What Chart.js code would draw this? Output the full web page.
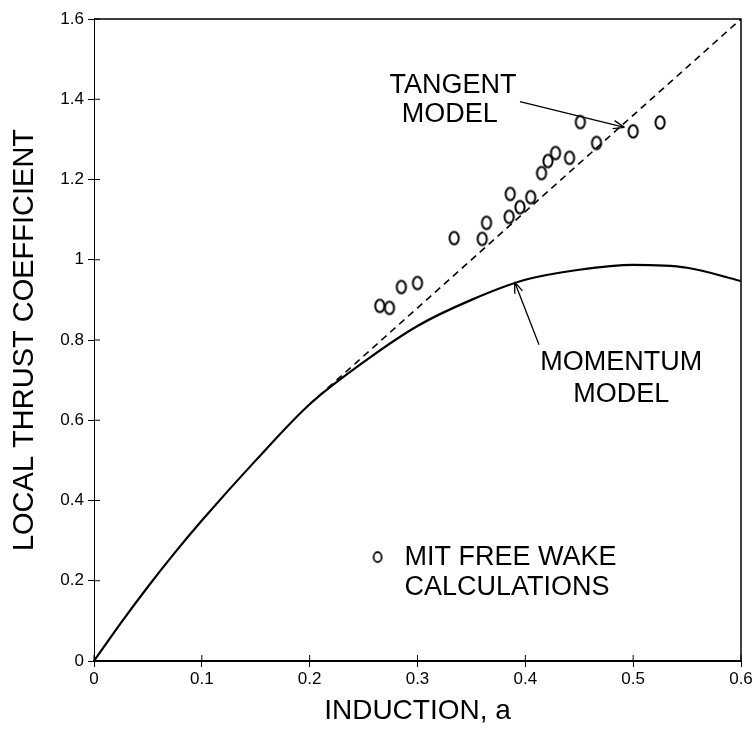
<!DOCTYPE html>
<html>
<head>
<meta charset="utf-8">
<title>Local thrust coefficient vs induction</title>
<script src="https://cdn.jsdelivr.net/npm/chart.js"></script>
<style>
  html, body { margin: 0; padding: 0; background: #fff; }
</style>
</head>
<body>
<canvas id="chart" width="755" height="733"></canvas>
<script>
// Momentum model curve
const momentumA = [0, 0.025, 0.05, 0.075, 0.1, 0.15, 0.2, 0.25, 0.3, 0.35, 0.4, 0.45, 0.5, 0.55, 0.6];
const momentumC = [0, 0.095, 0.185, 0.27, 0.35, 0.5, 0.64, 0.745, 0.835, 0.9, 0.95, 0.975, 0.987, 0.98, 0.947];

// Tangent model (dashed straight line)
const tangentA = [0.2, 0.6];
const tangentC = [0.64, 1.6];

// MIT free wake calculations (open markers)
const mitA = [0.265, 0.274, 0.285, 0.300, 0.334, 0.360, 0.364, 0.385, 0.386, 0.395, 0.405,
              0.415, 0.421, 0.428, 0.441, 0.451, 0.466, 0.50, 0.525];
const mitC = [0.885, 0.880, 0.932, 0.942, 1.054, 1.052, 1.092, 1.107, 1.164, 1.131, 1.156,
              1.216, 1.246, 1.266, 1.254, 1.343, 1.291, 1.320, 1.342];

// axis ticks
const xTicks = [0, 0.1, 0.2, 0.3, 0.4, 0.5, 0.6];
const xTickLabels = ['0', '0.1', '0.2', '0.3', '0.4', '0.5', '0.6'];
const yTicks = [0, 0.2, 0.4, 0.6, 0.8, 1, 1.2, 1.4, 1.6];
const yTickLabels = ['0', '0.2', '0.4', '0.6', '0.8', '1', '1.2', '1.4', '1.6'];

const FONT = "'Liberation Sans', Arial, sans-serif";

// "0" shaped marker used for the calculation points
function makeMarker(rx, ry, w) {
  const c = document.createElement('canvas');
  c.width = Math.ceil(rx * 2 + 4);
  c.height = Math.ceil(ry * 2 + 4);
  const g = c.getContext('2d');
  g.lineWidth = w;
  g.strokeStyle = '#000';
  g.beginPath();
  g.ellipse(c.width / 2, c.height / 2, rx, ry, 0, 0, Math.PI * 2);
  g.stroke();
  return c;
}
const marker = makeMarker(4.6, 6.3, 2);
const legendMarker = makeMarker(4, 5, 1.8);

const toXY = (xs, ys) => xs.map((v, i) => ({x: v, y: ys[i]}));

// labels and arrows, placed in data units
const notes = {
  texts: [
    {a: 0.333, c: 1.435, text: 'TANGENT', align: 'center'},
    {a: 0.330, c: 1.361, text: 'MODEL', align: 'center'},
    {a: 0.489, c: 0.743, text: 'MOMENTUM', align: 'center'},
    {a: 0.489, c: 0.663, text: 'MODEL', align: 'center'},
    {a: 0.288, c: 0.259, text: 'MIT FREE WAKE', align: 'left'},
    {a: 0.288, c: 0.184, text: 'CALCULATIONS', align: 'left'}
  ],
  arrows: [
    {from: [0.395, 1.394], to: [0.492, 1.33]},
    {from: [0.4127, 0.788], to: [0.390, 0.945]}
  ],
  legendMarker: [0.263, 0.259]
};

const annotate = {
  id: 'annotate',
  afterDraw(chart) {
    const {ctx, chartArea: area, scales: {x, y}} = chart;
    ctx.save();
    ctx.strokeStyle = '#000';
    ctx.fillStyle = '#000';

    // top and right frame
    ctx.lineWidth = 1.5;
    ctx.beginPath();
    ctx.moveTo(area.left, area.top);
    ctx.lineTo(area.right, area.top);
    ctx.lineTo(area.right, area.bottom);
    ctx.stroke();

    // inner half of the tick marks
    ctx.lineWidth = 1;
    ctx.beginPath();
    x.ticks.forEach(t => {
      const px = x.getPixelForValue(t.value);
      ctx.moveTo(px, area.bottom);
      ctx.lineTo(px, area.bottom - 6);
    });
    y.ticks.forEach(t => {
      const py = y.getPixelForValue(t.value);
      ctx.moveTo(area.left, py);
      ctx.lineTo(area.left + 6, py);
    });
    ctx.stroke();

    // text labels
    ctx.font = '27px ' + FONT;
    ctx.textBaseline = 'middle';
    notes.texts.forEach(n => {
      ctx.textAlign = n.align;
      ctx.fillText(n.text, x.getPixelForValue(n.a), y.getPixelForValue(n.c));
    });

    // arrows with open heads
    ctx.lineWidth = 1.3;
    notes.arrows.forEach(ar => {
      const x0 = x.getPixelForValue(ar.from[0]), y0 = y.getPixelForValue(ar.from[1]);
      const x1 = x.getPixelForValue(ar.to[0]), y1 = y.getPixelForValue(ar.to[1]);
      const ang = Math.atan2(y1 - y0, x1 - x0);
      ctx.beginPath();
      ctx.moveTo(x0, y0);
      ctx.lineTo(x1, y1);
      [0.35, -0.35].forEach(d => {
        ctx.moveTo(x1, y1);
        ctx.lineTo(x1 - 12 * Math.cos(ang + d), y1 - 12 * Math.sin(ang + d));
      });
      ctx.stroke();
    });

    // legend symbol
    const lx = x.getPixelForValue(notes.legendMarker[0]);
    const ly = y.getPixelForValue(notes.legendMarker[1]);
    ctx.drawImage(legendMarker, lx - legendMarker.width / 2, ly - legendMarker.height / 2);
    ctx.restore();
  }
};

new Chart(document.getElementById('chart'), {
  type: 'scatter',
  data: {
    datasets: [
      {
        label: 'Momentum model',
        data: toXY(momentumA, momentumC),
        showLine: true,
        borderColor: '#000',
        borderWidth: 2.2,
        pointRadius: 0,
        cubicInterpolationMode: 'monotone'
      },
      {
        label: 'Tangent model',
        data: toXY(tangentA, tangentC),
        showLine: true,
        borderColor: '#000',
        borderWidth: 1.6,
        borderDash: [7, 5],
        pointRadius: 0
      },
      {
        label: 'MIT free wake calculations',
        data: toXY(mitA, mitC),
        pointStyle: marker,
        pointRadius: 7
      }
    ]
  },
  options: {
    responsive: false,
    animation: false,
    layout: {padding: {left: 0, right: 14, top: 19, bottom: 0}},
    plugins: {
      legend: {display: false},
      tooltip: {enabled: false}
    },
    scales: {
      x: {
        type: 'linear',
        min: 0,
        max: 0.6,
        afterBuildTicks: s => { s.ticks = xTicks.map(v => ({value: v})); },
        afterFit: s => { s.height = 72; },
        ticks: {
          color: '#000',
          padding: 2,
          font: {family: FONT, size: 17},
          callback: (v) => xTickLabels[xTicks.indexOf(v)]
        },
        grid: {drawOnChartArea: false, color: '#000', tickLength: 6, lineWidth: 1},
        border: {display: true, color: '#000', width: 2},
        title: {
          display: true,
          text: 'INDUCTION, a',
          color: '#000',
          font: {family: FONT, size: 28},
          padding: {top: 0, bottom: 5}
        }
      },
      y: {
        type: 'linear',
        min: 0,
        max: 1.6,
        afterBuildTicks: s => { s.ticks = yTicks.map(v => ({value: v})); },
        afterFit: s => { s.width = 94; },
        ticks: {
          color: '#000',
          padding: 4,
          font: {family: FONT, size: 17},
          callback: (v) => yTickLabels[yTicks.indexOf(v)]
        },
        grid: {drawOnChartArea: false, color: '#000', tickLength: 6, lineWidth: 1},
        border: {display: true, color: '#000', width: 1},
        title: {
          display: true,
          text: 'LOCAL THRUST COEFFICIENT',
          color: '#000',
          font: {family: FONT, size: 29},
          padding: {top: 8, bottom: 0}
        }
      }
    }
  },
  plugins: [annotate]
});
</script>
</body>
</html>
